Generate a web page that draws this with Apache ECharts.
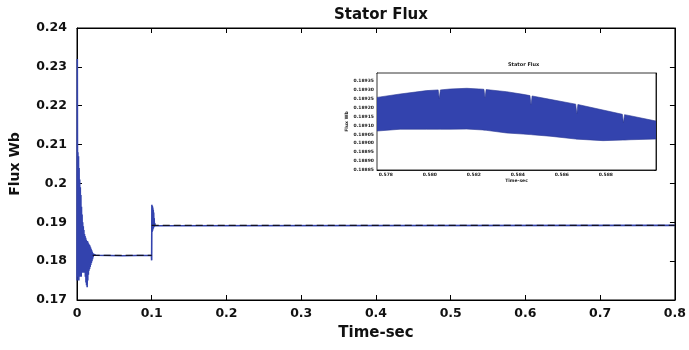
<!DOCTYPE html>
<html>
<head>
<meta charset="utf-8">
<script src="https://cdn.jsdelivr.net/npm/echarts@6/dist/echarts.min.js"></script>
<style>
  html, body { margin: 0; padding: 0; background: #fff; }
  #chart { width: 689px; height: 350px; }
</style>
</head>
<body>
<div id="chart"></div>
<script>
// main trace: stator flux (Wb) against time (s)
const fluxTime = [
  0, 0.0004, 0.0008, 0.0012, 0.0016, 0.002, 0.0024, 0.0028, 0.0032, 0.0036,
  0.004, 0.0044, 0.0048, 0.0052, 0.0056, 0.006, 0.0064, 0.0068, 0.0072, 0.0076,
  0.008, 0.0084, 0.0088, 0.0092, 0.0096, 0.010, 0.0104, 0.0108, 0.0112, 0.0116,
  0.012, 0.0124, 0.0128, 0.0132, 0.0136, 0.014, 0.0144, 0.0148, 0.0152, 0.0156,
  0.016, 0.0164, 0.0168, 0.0172, 0.0176, 0.018, 0.0184, 0.0188, 0.0192, 0.0196,
  0.020, 0.0204, 0.0208, 0.0212, 0.0216, 0.022, 0.023, 0.025, 0.06, 0.0996,
  0.0999, 0.1002, 0.1005, 0.1008, 0.1011, 0.1014, 0.1017, 0.102, 0.1023, 0.1026,
  0.1029, 0.1032, 0.1036, 0.104, 0.1045, 0.105, 0.107, 0.8
];
const fluxValue = [
  0.175, 0.232, 0.186, 0.208, 0.176, 0.207, 0.175, 0.204, 0.177, 0.201,
  0.176, 0.199, 0.177, 0.197, 0.176, 0.194, 0.177, 0.192, 0.177, 0.190,
  0.178, 0.189, 0.177, 0.188, 0.178, 0.187, 0.177, 0.1865, 0.176, 0.186,
  0.1745, 0.1855, 0.1738, 0.185, 0.1733, 0.1852, 0.175, 0.1848, 0.1765, 0.1845,
  0.1775, 0.1842, 0.178, 0.184, 0.1785, 0.1836, 0.179, 0.1832, 0.1795, 0.1828,
  0.180, 0.1824, 0.1805, 0.182, 0.181, 0.1818, 0.1814, 0.1815, 0.1814, 0.1815,
  0.1802, 0.1945, 0.1875, 0.1942, 0.1878, 0.1938, 0.1882, 0.1932, 0.1885, 0.1925,
  0.1888, 0.191, 0.1889, 0.1898, 0.1891, 0.1894, 0.1892, 0.1892
];
// dashed reference levels
const refTime = [0.021, 0.1, null, 0.1, 0.8];
const refValue = [0.1815, 0.1815, null, 0.1892, 0.1892];

// inset: envelope of the ripple band (zoomed steady state)
const insetTime = [
  0.5776, 0.57865, 0.57986, 0.58038, 0.58043, 0.58048, 0.58092, 0.58168, 0.58242, 0.58246,
  0.58251, 0.58256, 0.58349, 0.58424, 0.58455, 0.5846, 0.58465, 0.58546, 0.58663, 0.58668,
  0.58673, 0.58787, 0.58875, 0.5888, 0.58885, 0.5891, 0.59028
];
const insetUpper = [
  0.189258, 0.189277, 0.189296, 0.1893, 0.18925, 0.1893, 0.189305, 0.189309, 0.189304, 0.189303,
  0.189255, 0.189302, 0.18929, 0.189275, 0.189268, 0.189215, 0.189266, 0.189247, 0.18922, 0.189165,
  0.189218, 0.189187, 0.189163, 0.189115, 0.189161, 0.189155, 0.189125
];
const insetLower = [
  0.189069, 0.189079, 0.189079, 0.189079, 0.189079, 0.189079, 0.189079, 0.18908, 0.189075, 0.189074,
  0.189074, 0.189073, 0.189058, 0.189052, 0.189049, 0.189049, 0.189048, 0.18904, 0.189024, 0.189023,
  0.189023, 0.189015, 0.189018, 0.189018, 0.189018, 0.18902, 0.189024
];

const BLUE = "#3343ae";
const FONT = "DejaVu Sans";

const chart = echarts.init(document.getElementById("chart"), null, { renderer: "canvas" });

const tickStyle = { show: true, inside: true, length: 5, lineStyle: { color: "#000" } };
const lineStyle = { show: true, onZero: false, lineStyle: { color: "#000", width: 1 } };
const smallTick = { show: true, inside: true, length: 2, lineStyle: { color: "#000", width: 0.6 } };
const smallLine = { show: true, onZero: false, lineStyle: { color: "#000", width: 0.8 } };
const tinyLabel = { color: "#222", fontFamily: FONT, fontSize: 4.5, fontWeight: "bold" };

// the ripple band is drawn as one polygon: upper envelope forward, lower back
function renderBand(params, api) {
  const pts = [];
  for (let i = 0; i < insetTime.length; i++) pts.push(api.coord([insetTime[i], insetUpper[i]]));
  for (let i = insetTime.length - 1; i >= 0; i--) pts.push(api.coord([insetTime[i], insetLower[i]]));
  return {
    type: "polygon",
    shape: { points: pts },
    style: { fill: BLUE, stroke: "#2a3894", lineWidth: 0.6 },
  };
}

chart.setOption({
  animation: false,
  backgroundColor: "#fff",
  title: [
    {
      text: "Stator Flux",
      left: 329, top: 3,
      textStyle: { fontFamily: FONT, fontSize: 15, fontWeight: "bold", color: "#111" },
    },
    {
      text: "Stator Flux",
      left: 503, top: 57,
      textStyle: { fontFamily: FONT, fontSize: 5, fontWeight: "bold", color: "#222" },
    },
  ],
  grid: [
    { left: 77, right: 13, top: 28, bottom: 50, show: true, borderColor: "#000", borderWidth: 1 },
    { left: 377, right: 33, top: 73, bottom: 180, show: true, borderColor: "#000", borderWidth: 0.8,
      backgroundColor: "#fff", z: 5 },
  ],
  xAxis: [
    {
      type: "value", gridIndex: 0, min: 0, max: 0.8, interval: 0.1,
      name: "Time-sec", nameLocation: "middle", nameGap: 26,
      nameTextStyle: { fontFamily: FONT, fontSize: 15, fontWeight: "bold", color: "#111" },
      axisLine: lineStyle, axisTick: tickStyle, splitLine: { show: false },
      axisLabel: { margin: 7, fontFamily: FONT, fontSize: 12.5, fontWeight: "bold", color: "#111" },
    },
    {
      type: "value", gridIndex: 0, position: "top", min: 0, max: 0.8, interval: 0.1,
      axisLine: lineStyle, axisTick: tickStyle, axisLabel: { show: false }, splitLine: { show: false },
    },
    {
      type: "value", gridIndex: 1, min: 0.5776, max: 0.59028, splitNumber: 6,
      name: "Time-sec", nameLocation: "middle", nameGap: 6,
      nameTextStyle: tinyLabel,
      axisLine: smallLine, axisTick: smallTick, splitLine: { show: false },
      axisLabel: Object.assign({ margin: 2, showMinLabel: false, showMaxLabel: false,
        formatter: (v) => (v > 0.5895 ? "" : v.toFixed(3)) }, tinyLabel),
    },
    {
      type: "value", gridIndex: 1, position: "top", min: 0.5776, max: 0.59028, splitNumber: 6,
      axisLine: smallLine, axisTick: smallTick, axisLabel: { show: false }, splitLine: { show: false },
    },
  ],
  yAxis: [
    {
      type: "value", gridIndex: 0, min: 0.17, max: 0.24, interval: 0.01,
      name: "Flux Wb", nameLocation: "middle", nameGap: 55,
      nameTextStyle: { fontFamily: FONT, fontSize: 14, fontWeight: "bold", color: "#111" },
      axisLine: lineStyle, axisTick: tickStyle, splitLine: { show: false },
      axisLabel: { margin: 10, fontFamily: FONT, fontSize: 12.5, fontWeight: "bold", color: "#111" },
    },
    {
      type: "value", gridIndex: 0, position: "right", min: 0.17, max: 0.24, interval: 0.01,
      axisLine: lineStyle, axisTick: tickStyle, axisLabel: { show: false }, splitLine: { show: false },
    },
    {
      type: "value", gridIndex: 1, min: 0.18885, max: 0.189395, interval: 0.00005,
      name: "Flux Wb", nameLocation: "middle", nameGap: 22,
      nameTextStyle: tinyLabel,
      axisLine: smallLine, axisTick: smallTick, splitLine: { show: false },
      axisLabel: Object.assign({ margin: 3, showMaxLabel: false,
        formatter: (v) => v.toFixed(5) }, tinyLabel),
    },
    {
      type: "value", gridIndex: 1, position: "right", min: 0.18885, max: 0.189395, interval: 0.00005,
      axisLine: smallLine, axisTick: smallTick, axisLabel: { show: false }, splitLine: { show: false },
    },
  ],
  series: [
    {
      name: "flux", type: "line", xAxisIndex: 0, yAxisIndex: 0,
      data: fluxTime.map((t, i) => [t, fluxValue[i]]),
      symbol: "none", lineStyle: { color: BLUE, width: 1.6 }, z: 2,
    },
    {
      name: "reference", type: "line", xAxisIndex: 0, yAxisIndex: 0,
      data: refTime.map((t, i) => (t === null ? [null, null] : [t, refValue[i]])),
      connectNulls: false,
      symbol: "none", lineStyle: { color: "#111122", width: 1.2, type: [7, 4] }, z: 3,
    },
    {
      name: "band", type: "custom", xAxisIndex: 2, yAxisIndex: 2,
      data: [[insetTime[0], insetUpper[0]]],
      renderItem: renderBand, clip: true, z: 6,
    },
  ],
});
</script>
</body>
</html>
